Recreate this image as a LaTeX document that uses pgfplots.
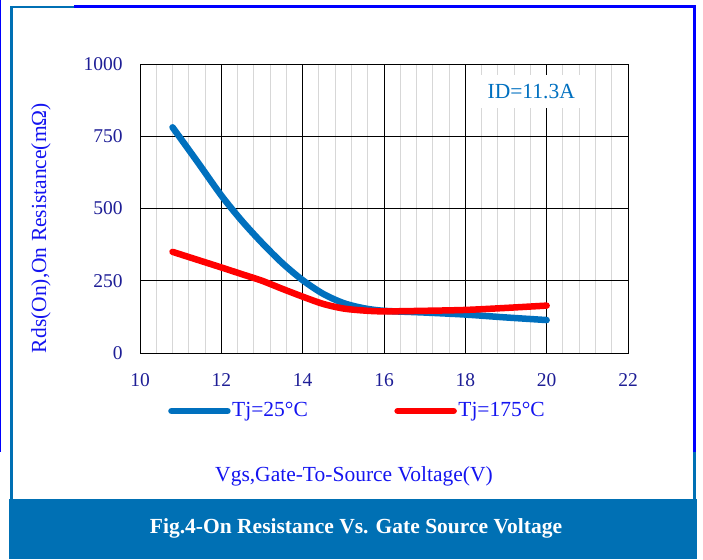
\documentclass[border=0pt]{standalone}
\usepackage{fontspec}
\setmainfont{Liberation Serif}
\usepackage{pgfplots}
\pgfplotsset{compat=1.18}
\definecolor{steel}{RGB}{0,112,180}
\definecolor{curveblue}{RGB}{0,112,190}
\definecolor{labblue}{RGB}{20,20,240}
\definecolor{tickblue}{RGB}{30,30,150}
\definecolor{idblue}{RGB}{0,112,192}
\definecolor{minorgray}{RGB}{215,215,215}
\begin{document}
\fontsize{21.5}{25}\selectfont
\begin{tikzpicture}
\useasboundingbox (0pt,0pt) rectangle (703pt,559pt);
% frame
\fill[steel] (9pt,0pt) rectangle (697pt,60pt);
\draw[blue, line width=1pt] (0.5pt,559pt) -- (0.5pt,107pt);
\draw[steel, line width=2.5pt] (11.5pt,60pt) -- (11.5pt,552pt) -- (74pt,552pt);
\draw[blue, line width=3pt] (74pt,552pt) -- (694.5pt,552pt) -- (694.5pt,107pt);
\draw[steel, line width=3pt] (694.5pt,107pt) -- (694.5pt,60pt);
\node[text=white, font=\bfseries] at (356pt,31pt) {Fig.4-On Resistance Vs. Gate Source Voltage};
\begin{axis}[
  at={(140pt,206pt)}, anchor=south west,
  width=488pt, height=289pt, scale only axis,
  xmin=10, xmax=22, ymin=0, ymax=1000,
  xtick={10,12,...,22}, ytick={0,250,500,750,1000},
  minor x tick num=4,
  xmajorgrids=true, ymajorgrids=true, xminorgrids=true,
  major grid style={black, line width=0.9pt},
  minor grid style={minorgray, line width=0.9pt},
  axis line style={black, line width=0.9pt},
  major tick length=0pt, minor tick length=0pt,
  /pgf/number format/assume math mode=true,
  /pgf/number format/1000 sep={},
  tick label style={text=tickblue, font=\fontsize{19.5}{23}\selectfont},
  xticklabel style={yshift=-13pt},
  yticklabel style={xshift=-10pt},
  xlabel={Vgs,Gate-To-Source Voltage(V)},
  ylabel={Rds(On),On Resistance(mΩ)},
  xlabel style={text=labblue, at={(axis description cs:0.4385,-0.4256)}, anchor=center},
  ylabel style={text=labblue, at={(axis description cs:-0.203,0.4325)}, anchor=center},
  legend columns=2,
  legend style={draw=none, fill=none, at={(axis description cs:0.0574,-0.2007)}, anchor=west,
    inner sep=0pt, nodes={inner sep=1.5pt, text=labblue}, /tikz/every even column/.append style={column sep=85pt}},
  legend image code/.code={\draw[#1, line cap=round] (3pt,0pt) -- (59pt,0pt);},
]
\addplot[curveblue, line width=6.5pt, smooth, line cap=round] coordinates {
(10.8,781) (11.4,664) (12,545) (12.5,458) (13,381) (13.5,311) (14,252) (14.5,205) (15,173) (15.5,155) (16,146) (17,140) (18,133) (19,123) (20,114)};
\addlegendentry{Tj=25°C}
\addplot[red, line width=6.5pt, smooth, line cap=round] coordinates {
(10.8,350) (11.4,323) (12,296) (12.5,273) (13,250) (13.5,222) (14,195) (14.5,170) (15,154) (15.5,147) (16,144) (17,146) (18,149) (19,156) (20,164)};
\addlegendentry{Tj=175°C}
\node[fill=white, text=idblue, minimum width=98pt, minimum height=33pt] at (axis cs:19.62,905) {ID=11.3A};
\end{axis}
\end{tikzpicture}
\end{document}
